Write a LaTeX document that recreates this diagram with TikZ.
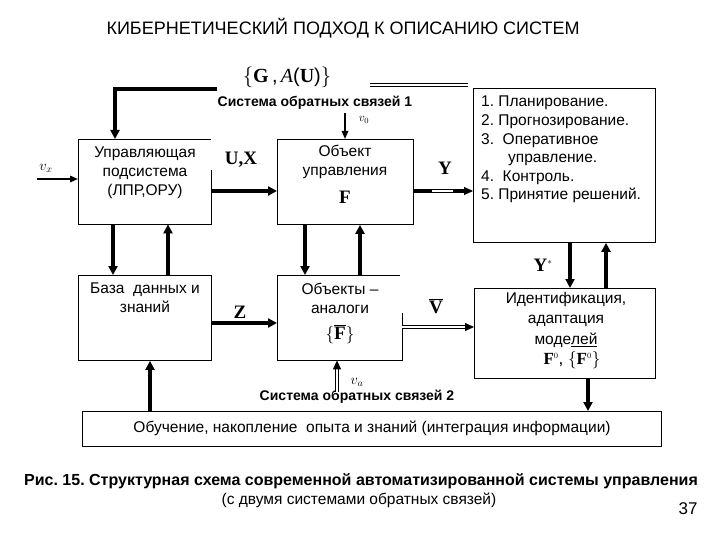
\documentclass[tikz,border=0pt]{standalone}
\usepackage[no-math]{fontspec}
\setmainfont{Liberation Sans}
\newfontfamily\tms{Liberation Serif}
\newcommand\tbf[1]{{\tms\bfseries #1}}
\usetikzlibrary{arrows.meta,calc}
\frenchspacing
\begin{document}
\begin{tikzpicture}[x=1pt,y=-1pt,
 box/.style={draw, line width=0.9pt, inner sep=0pt, anchor=north west},
 obox/.style={inner sep=0pt, anchor=north west},
 edge/.style={line width=0.9pt},
 txt/.style={align=center, font=\fontsize{15.5}{19}\selectfont, inner sep=0pt, anchor=north},
 thk/.style={line width=3.6pt, -{Triangle[length=9pt,width=9pt]}},
 thn/.style={line width=1.6pt, -{Triangle[length=8pt,width=6.5pt]}},
 dbl/.style={double, line width=0.9pt, double distance=2.2pt, -{Triangle[length=9pt,width=8pt]}},
 sym/.style={font=\fontsize{19}{19}\selectfont, inner sep=0pt},
 lbl/.style={font=\bfseries\fontsize{14}{16}\selectfont, inner sep=0pt}
]
\useasboundingbox (0,0) rectangle (720,540);
\fill[white] (0,0) rectangle (720,540);

% title
\node[font=\fontsize{18}{20}\selectfont, inner sep=0pt] (title) at (343,28) {КИБЕРНЕТИЧЕСКИЙ ПОДХОД К ОПИСАНИЮ СИСТЕМ};

% boxes
\node[obox, minimum width=133pt, minimum height=85pt] (ctrl) at (78,139) {};
\draw[edge] ($(ctrl.north east)+(0,31)$) |- (ctrl.south west) |- (ctrl.north east);
\node[box, minimum width=136pt, minimum height=85pt] (obj) at (277,139) {};
\node[box, minimum width=182pt, minimum height=154pt] (list) at (473,88) {};
\node[box, minimum width=133pt, minimum height=85pt] (db) at (78,275) {};
\node[obox, minimum width=125pt, minimum height=85pt] (ana) at (277,275) {};
\draw[edge] ($(ana.north east)+(0,38)$) |- (ana.south west) |- ($(ana.north east)+(-2,0)$);
\node[box, minimum width=181pt, minimum height=90pt] (ident) at (474,288) {};
\node[box, minimum width=579pt, minimum height=35pt] (learn) at (82,411) {};

% box texts
\node[txt] (ctrlt) at (145,147) {Управляющая\\подсистема\\(ЛПР,ОРУ)};
\node[txt] (objt) at (345,145) {Объект\\управления};
\node[sym] (objF) at (345,197) {\tbf{F}};
\node[txt, anchor=north west, align=left, font=\fontsize{15.5}{18.6}\selectfont] (listt) at (481,96)
 {1. Планирование.\\2. Прогнозирование.\\3.\ \ Оперативное\\\hspace*{27pt}управление.\\4.\ \ Контроль.\\5. Принятие решений.};
\node[txt] (dbt) at (145,283) {База\ \ данных и\\знаний};
\node[txt] (anat) at (340,283) {Объекты –\\аналоги};
\node[sym] (anaF) at (340,334) {$\{$\tbf{$\overline{\mbox{F}}$}$\}$};
\node[txt, font=\fontsize{15.5}{20.5}\selectfont] (identt) at (566,292) {Идентификация,\\адаптация\\моде\underline{лей}};
\node[sym, font=\fontsize{17}{17}\selectfont] (identF) at (572,360) {\tbf{F}$^{\scriptscriptstyle 0}$, $\{$\tbf{F}$^{\scriptscriptstyle 0}\}$};
\node[txt, anchor=center] (learnt) at (372,428) {Обучение, накопление\ \ опыта и знаний (интеграция информации)};

% labels
\node[sym, font=\fontsize{20}{20}\selectfont] (GAU) at (287,77) {$\{$\tbf{G}\,,\,{\tms\itshape A}(\tbf{U})$\}$};
\node[lbl] (fb1l) at (315,103) {Система обратных связей 1};
\node[lbl] (fb2l) at (357,397) {Система обратных связей 2};
\node[inner sep=0pt, font=\fontsize{12}{12}\selectfont] (v0l) at (364,120) {$v_0$};
\node[inner sep=0pt, font=\fontsize{14}{14}\selectfont] (vxl) at (46,168) {$v_x$};
\node[inner sep=0pt, font=\fontsize{14}{14}\selectfont] (val) at (357,382) {$v_a$};
\node[sym] (UXl) at (241,160) {\tbf{U,X}};
\node[sym] (Yl) at (445,168) {\tbf{Y}};
\node[sym] (Zl) at (240,312) {\tbf{Z}};
\node[sym] (Vl) at (436,306) {\tbf{$\overline{\mbox{V}}$}};
\node[sym] (Ysl) at (543,265) {\tbf{Y}$^{\scriptscriptstyle *}$};

% caption
\node[font=\bfseries\fontsize{16}{18}\selectfont, inner sep=0pt] (cap1) at (361,481) {Рис. 15. Структурная схема современной автоматизированной системы управления};
\node[font=\fontsize{15.5}{18}\selectfont, inner sep=0pt] (cap2) at (359,500) {(с двумя системами обратных связей)};
\node[font=\fontsize{17}{18}\selectfont, inner sep=0pt] (page) at (688,509) {37};

% free ends
\coordinate (vxs) at (37,179);
\coordinate (fb1) at (217,89);
\coordinate (fbA) at (370,85);
\coordinate (fbB) at (468,85);
\coordinate (v0s) at (345,113);
\coordinate (vas) at (337,392);

% connectors
\draw[thn] (vxs) -- (ctrl.west |- vxs);
\draw[thk] (fb1) -| ($(ctrl.north west)+(37,0)$);
\draw[double, line width=0.9pt, double distance=2.2pt] (fbA) -- (fbB);
\draw[thn] (v0s) -- (v0s |- obj.north);
\draw[thk] ($(ctrl.north east)+(0,52)$) -- ($(obj.north west)+(0,52)$);
\draw[dbl] ($(obj.north east)+(0,52)$) -- ($(list.north west)+(0,103)$);
\draw[line width=3.6pt] ($(obj.north east)+(0,52)$) -- ++(18,0);
\draw[line width=3.6pt] ($(list.north west)+(-20,103)$) -- ++(12,0);
\draw[thk] ($(ctrl.south west)+(35,0)$) -- ($(db.north west)+(35,0)$);
\draw[thk] ($(db.north west)+(90,0)$) -- ($(ctrl.south west)+(90,0)$);
\draw[thk] ($(obj.south west)+(28,0)$) -- ($(ana.north west)+(28,0)$);
\draw[thk] ($(ana.north west)+(83,0)$) -- ($(obj.south west)+(83,0)$);
\draw[thk] ($(db.north east)+(0,48)$) -- ($(ana.north west)+(0,48)$);
\draw[dbl] ($(ana.north east)+(0,52)$) -- ($(ident.north west)+(0,39)$);
\draw[thk] ($(list.south west)+(97,0)$) -- ($(ident.north west)+(96,0)$);
\draw[thk] ($(ident.north west)+(132,0)$) -- ($(list.south west)+(133,0)$);
\draw[thk] ($(ident.south west)+(114,0)$) -- ($(learn.north west)+(506,0)$);
\draw[thk] ($(learn.north west)+(68,0)$) -- ($(db.south west)+(72,0)$);
\draw[dbl, line width=1.2pt, double distance=1.5pt] (vas) -- (vas |- ana.south);
\end{tikzpicture}
\end{document}
